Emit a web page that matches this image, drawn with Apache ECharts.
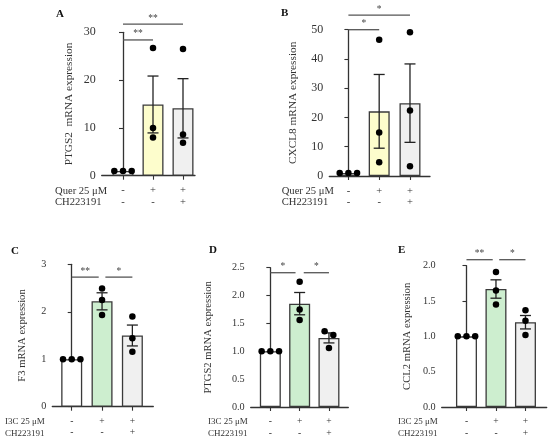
<!DOCTYPE html>
<html>
<head>
<meta charset="utf-8">
<script src="https://cdn.jsdelivr.net/npm/echarts@6/dist/echarts.min.js"></script>
<style>
html, body { margin: 0; padding: 0; background: #fff; }
#chart { width: 550px; height: 441px; }
</style>
</head>
<body>
<div id="chart"></div>
<script>
// treatment rows under each panel
var querRow = ['-', '+', '+'];
var i3cRow = ['-', '+', '+'];
var chRow = ['-', '-', '+'];

// A: PTGS2, quercetin
var aMean = [1.0, 14.9, 14.1];
var aSem = [0, 5.95, 6.2];
var aDots = [[1, 1, 1], [26.7, 10.0, 8.0], [26.5, 8.6, 6.9]];
var aSig = [[0, 1, 28.4, '**'], [0, 2, 31.7, '**']];

// B: CXCL8, quercetin
var bMean = [1.0, 22.1, 24.9];
var bSem = [0, 12.6, 13.4];
var bDots = [[1, 1, 1], [46.6, 14.9, 4.7], [49.1, 22.4, 3.3]];
var bSig = [[0, 1, 50, '*'], [0, 2, 55, '*']];

// C: F3, I3C
var cMean = [1.0, 2.22, 1.5];
var cSem = [0, 0.18, 0.22];
var cDots = [[1, 1, 1], [2.49, 2.25, 1.93], [1.9, 1.44, 1.16]];
var cSig = [[0, 1, 2.73, '**'], [1, 2, 2.73, '*']];

// D: PTGS2, I3C
var dMean = [1.0, 1.855, 1.24];
var dSem = [0, 0.2, 0.09];
var dDots = [[1, 1, 1], [2.25, 1.75, 1.56], [1.36, 1.29, 1.06]];
var dSig = [[0, 1, 2.41, '*'], [1, 2, 2.41, '*']];

// E: CCL2, I3C
var eMean = [1.0, 1.67, 1.2];
var eSem = [0, 0.13, 0.095];
var eDots = [[1, 1, 1], [1.91, 1.65, 1.45], [1.37, 1.22, 1.02]];
var eSig = [[0, 1, 2.085, '**'], [1, 2, 2.085, '*']];

var FONT = '"Liberation Serif", "DejaVu Serif", serif';
var INK = '#333';
var yellowFill = ['#ffffff', '#fdfdcc', '#f0f0f0'];
var greenFill = ['#ffffff', '#cdeecf', '#f0f0f0'];

// top row is printed a bit larger than the bottom row
var topText = { tick: 12, name: 11.3, row: 10.6, sign: 10.5 };
var lowText = { tick: 10.2, name: 10.6, row: 9, sign: 9.5 };

var panels = [
  { letter: 'A', lx: 60, ly: 16, name: 'PTGS2  mRNA expression', mean: aMean, sem: aSem, dots: aDots, sig: aSig,
    fill: yellowFill, rowA: querRow, rowALabel: 'Quer 25 \u03bcM', rowX: 55, txt: topText,
    left: 101.7, top: 32.3, width: 93.3, height: 143.4, xMin: -0.71, xMax: 2.4,
    yMax: 30, yInt: 10, dec: 0, nameGap: 27, gap: 0 },
  { letter: 'B', lx: 285, ly: 15, name: 'CXCL8 mRNA expression', mean: bMean, sem: bSem, dots: bDots, sig: bSig,
    fill: yellowFill, rowA: querRow, rowALabel: 'Quer 25 \u03bcM', rowX: 281.7, txt: topText,
    left: 329.3, top: 29.7, width: 100.7, height: 146.3, xMin: -0.62, xMax: 2.65,
    yMax: 50, yInt: 10, dec: 0, nameGap: 31, gap: 0 },
  { letter: 'C', lx: 15, ly: 253, name: 'F3 mRNA expression', mean: cMean, sem: cSem, dots: cDots, sig: cSig,
    fill: greenFill, rowA: i3cRow, rowALabel: 'I3C 25 \u03bcM', rowX: 5, txt: lowText,
    left: 52.3, top: 264.3, width: 101, height: 142.4, xMin: -0.64, xMax: 2.69,
    yMax: 3, yInt: 1, dec: 0, nameGap: 25, gap: 0.11 },
  { letter: 'D', lx: 213, ly: 252, name: 'PTGS2 mRNA expression', mean: dMean, sem: dSem, dots: dDots, sig: dSig,
    fill: greenFill, rowA: i3cRow, rowALabel: 'I3C 25 \u03bcM', rowX: 208, txt: lowText,
    left: 250.7, top: 267.7, width: 97.6, height: 139.3, xMin: -0.67, xMax: 2.66,
    yMax: 2.5, yInt: 0.5, dec: 1, nameGap: 36.5, gap: 0.14 },
  { letter: 'E', lx: 402, ly: 252, name: 'CCL2 mRNA expression', mean: eMean, sem: eSem, dots: eDots, sig: eSig,
    fill: greenFill, rowA: i3cRow, rowALabel: 'I3C 25 \u03bcM', rowX: 398, txt: lowText,
    left: 441.7, top: 265.7, width: 105, height: 141.3, xMin: -0.84, xMax: 2.72,
    yMax: 2.0, yInt: 0.5, dec: 1, nameGap: 28.5, gap: 0.11 }
];

// spread replicates sideways when they would overlap, like Prism does
function spreadDots(values, pxPerUnit, xPerPx) {
  var sorted = values.slice().sort(function (a, b) { return b - a; });
  var clusters = [];
  sorted.forEach(function (v) {
    var last = clusters[clusters.length - 1];
    if (last && (last[last.length - 1] - v) * pxPerUnit < 6) last.push(v);
    else clusters.push([v]);
  });
  var out = [];
  clusters.forEach(function (cl) {
    cl.forEach(function (v, i) {
      out.push([(i - (cl.length - 1) / 2) * 8.7 * xPerPx, v]);
    });
  });
  return out;
}

var grids = [], xAxes = [], yAxes = [], series = [], graphics = [];

panels.forEach(function (p, k) {
  grids.push({ left: p.left, top: p.top, width: p.width, height: p.height, containLabel: false });
  var rowB = chRow;
  xAxes.push({
    type: 'value', gridIndex: k, min: p.xMin, max: p.xMax,
    splitLine: { show: false },
    axisLine: { show: true, onZero: false, lineStyle: { color: INK, width: 1.3 } },
    axisTick: { show: true, length: 4, customValues: [0, 1, 2], lineStyle: { color: INK, width: 1.1 } },
    axisLabel: {
      show: true, customValues: [0, 1, 2], margin: 9,
      fontFamily: FONT, fontSize: p.txt.sign, color: INK, lineHeight: 11.5,
      formatter: function (v) { var i = Math.round(v); return p.rowA[i] + '\n' + rowB[i]; }
    }
  });
  yAxes.push({
    type: 'value', gridIndex: k, min: 0, max: p.yMax, interval: p.yInt,
    name: p.name, nameLocation: 'middle', nameRotate: 90, nameGap: p.nameGap,
    nameTextStyle: { fontFamily: FONT, fontSize: p.txt.name, color: INK },
    splitLine: { show: false },
    axisLine: { show: true, lineStyle: { color: INK, width: 1.3 } },
    axisTick: { show: true, length: 4, lineStyle: { color: INK, width: 1.1 } },
    axisLabel: {
      fontFamily: FONT, fontSize: p.txt.tick, color: INK, margin: 6,
      formatter: function (v) { return v.toFixed(p.dec); }
    }
  });

  series.push({
    type: 'bar', xAxisIndex: k, yAxisIndex: k, barWidth: 21, z: 2,
    data: p.mean.map(function (m, i) {
      return { value: [i, m], itemStyle: { color: p.fill[i], borderColor: '#3a3a3a', borderWidth: 1.3 } };
    }),
    silent: true
  });

  series.push({
    type: 'custom', xAxisIndex: k, yAxisIndex: k, z: 3, silent: true,
    data: p.mean.map(function (m, i) { return [i, m, p.sem[i]]; }),
    renderItem: function (params, api) {
      var x = api.value(0), m = api.value(1), s = api.value(2);
      if (!s) return null;
      var hi = api.coord([x, m + s]), lo = api.coord([x, m - s]);
      var st = { stroke: '#222', lineWidth: 1.3 };
      return { type: 'group', children: [
        { type: 'line', shape: { x1: hi[0], y1: hi[1], x2: lo[0], y2: lo[1] }, style: st },
        { type: 'line', shape: { x1: hi[0] - 5.5, y1: hi[1], x2: hi[0] + 5.5, y2: hi[1] }, style: st },
        { type: 'line', shape: { x1: lo[0] - 5.5, y1: lo[1], x2: lo[0] + 5.5, y2: lo[1] }, style: st }
      ] };
    }
  });

  var pxPerUnit = p.height / p.yMax;
  var xPerPx = (p.xMax - p.xMin) / p.width;
  var pts = [];
  p.dots.forEach(function (vals, i) {
    spreadDots(vals, pxPerUnit, xPerPx).forEach(function (d) { pts.push([i + d[0], d[1]]); });
  });
  series.push({
    type: 'scatter', xAxisIndex: k, yAxisIndex: k, z: 4, silent: true,
    symbolSize: 6.5, itemStyle: { color: '#000', opacity: 1 }, data: pts
  });

  series.push({
    type: 'custom', xAxisIndex: k, yAxisIndex: k, z: 5, silent: true, clip: false,
    data: p.sig,
    renderItem: function (params, api) {
      var g1 = api.value(0), g2 = api.value(1), y = api.value(2);
      var x1 = g1 + (g1 === 1 ? p.gap : 0), x2 = g2 - (g2 === 1 ? p.gap : 0);
      var a = api.coord([x1, y]), b = api.coord([x2, y]);
      var label = p.sig[params.dataIndex][3];
      return { type: 'group', children: [
        { type: 'line', shape: { x1: a[0], y1: a[1], x2: b[0], y2: b[1] }, style: { stroke: '#555', lineWidth: 1.3 } },
        { type: 'text', style: { text: label, x: (a[0] + b[0]) / 2, y: a[1] - 1, textAlign: 'center', textVerticalAlign: 'bottom',
          font: '9.5px ' + FONT, fill: '#444' } }
      ] };
    }
  });

  graphics.push({ type: 'text', left: p.lx - 4, top: p.ly - 7,
    style: { text: p.letter, font: 'bold 11px ' + FONT, fill: '#111' } });
  var rowY = k < 2 ? [191.7, 203.2] : [422, 434];
  graphics.push({ type: 'text', left: p.rowX, top: rowY[0] - p.txt.row * 0.58,
    style: { text: p.rowALabel, font: p.txt.row + 'px ' + FONT, fill: INK } });
  graphics.push({ type: 'text', left: p.rowX, top: rowY[1] - p.txt.row * 0.58,
    style: { text: 'CH223191', font: p.txt.row + 'px ' + FONT, fill: INK } });
});

var chart = echarts.init(document.getElementById('chart'), null, { renderer: 'canvas' });
chart.setOption({
  animation: false,
  backgroundColor: '#fff',
  grid: grids,
  xAxis: xAxes,
  yAxis: yAxes,
  series: series,
  graphic: graphics
});
</script>
</body>
</html>
